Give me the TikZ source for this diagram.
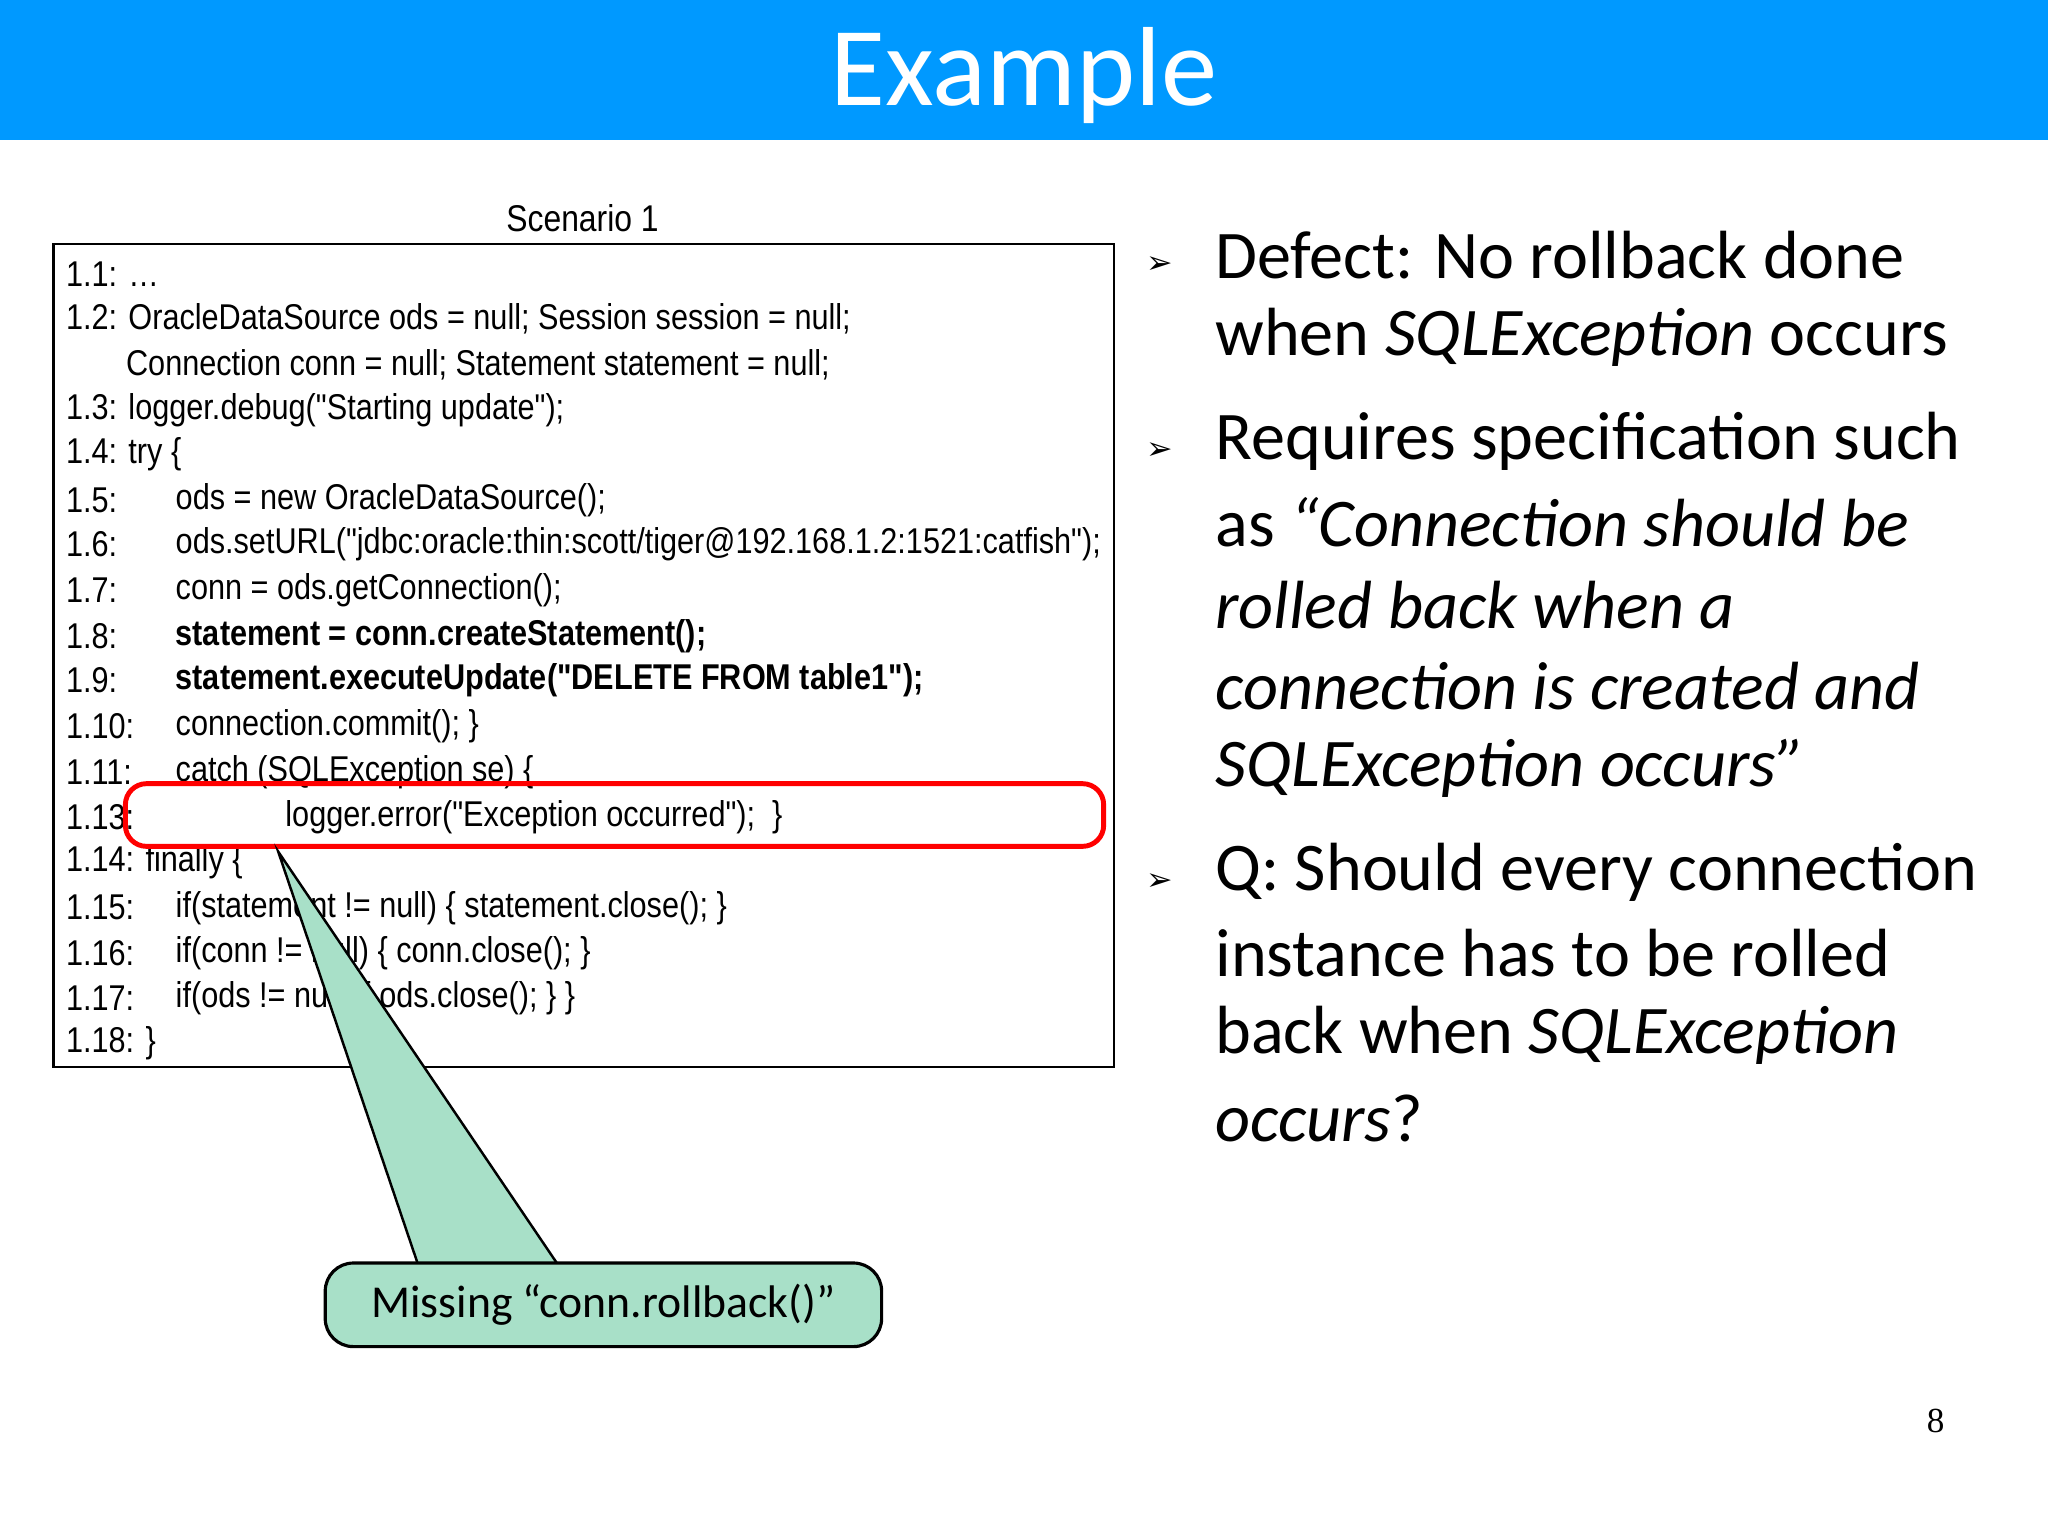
\documentclass[tikz,border=0pt]{standalone}
\usepackage{fontspec}
\setmainfont{Carlito}
\newfontfamily\codefont[FakeStretch=0.855]{Liberation Sans}
\newfontfamily\dejavu{DejaVu Sans}
\newfontfamily\serifnum{Liberation Serif}
\begin{document}
\begin{tikzpicture}[x=0.013061cm,y=-0.013061cm,
  cl/.style={anchor=west,inner sep=0pt,font=\codefont\fontsize{10.2}{12}\selectfont},
  rt/.style={anchor=west,inner sep=0pt,font=\fontsize{19.4}{24}\selectfont},
  bul/.style={inner sep=0pt,font=\dejavu\fontsize{9}{10}\selectfont}]
\useasboundingbox (0,0) rectangle (1568,1176);
\fill[white] (0,0) rectangle (1568,1176);
\fill[color={rgb,255:red,0;green,153;blue,255}] (0,0) rectangle (1568,107);
\node[text=white,font=\fontsize{32}{36}\selectfont] (title) at (784,58) {Example};
\node[font=\codefont\fontsize{10.6}{12}\selectfont] (scen) at (446,167) {Scenario 1};
\node[draw,line width=0.7pt,minimum width=812*0.013061cm,minimum height=630*0.013061cm,inner sep=0pt] (box) at (447,502) {};
\begin{scope}[yshift=-2*0.013061cm]
\foreach \y/\l in {208/{1.1: \dots},242/{1.2: OracleDataSource ods = null; Session session = null;},312/{1.3: logger.debug("Starting update");},346/{1.4: try \{},381/{1.5:},415/{1.6:},450/{1.7:},485/{1.8:},519/{1.9:},554/{1.10:},589/{1.11:},624/{1.13:},658/{1.14: finally \{},693/{1.15:},728/{1.16:},762/{1.17:},797/{1.18: \}}}
  \node[cl] at (50,\y) {\l};
\node[cl] (c2) at (96,277) {Connection conn = null; Statement statement = null;};
\node[cl] (c5) at (134,381) {ods = new OracleDataSource();};
\node[cl] (c6) at (134,415) {ods.setURL("jdbc:oracle:thin:scott/tiger@192.168.1.2:1521:catfish");};
\node[cl] (c7) at (134,450) {conn = ods.getConnection();};
\node[cl] (c8) at (134,485) {\bfseries statement = conn.createStatement();};
\node[cl] (c9) at (134,519) {\bfseries statement.executeUpdate("DELETE FROM table1");};
\node[cl] (c10) at (134,554) {connection.commit(); \}};
\node[cl] (c11) at (134,589) {catch (SQLException se) \{};
\node[cl] (c13) at (218,624) {logger.error("Exception occurred");~ \}};
\node[cl] (c15) at (134,693) {if(statement != null) \{ statement.close(); \}};
\node[cl] (c16) at (134,728) {if(conn != null) \{ conn.close(); \}};
\node[cl] (c17) at (134,762) {if(ods != null) \{ ods.close(); \} \}};
\end{scope}
\draw[red,line width=1.4pt,rounded corners=6pt] (96,600) rectangle (845,648);
\coordinate (tip) at (213,652);
\fill[color={rgb,255:red,168;green,224;blue,200}] (tip) -- (320,969) -- (427,969) -- cycle;
\draw[line width=0.7pt] (320,968) -- (tip) -- (427,968);
\node[draw,line width=0.9pt,rounded corners=8pt,fill={rgb,255:red,168;green,224;blue,200},minimum width=426*0.013061cm,minimum height=64*0.013061cm,font=\fontsize{13}{15}\selectfont] (call) at (462,999) {Missing “conn.rollback()”};
\foreach \y in {203,345,675} \node[bul] at (888,\y) {➢};
\node[rt] at (930,195) {Defect: No rollback done};
\node[rt] at (930,258) {when \textit{SQLException} occurs};
\node[rt] at (930,338) {Requires specification such};
\node[rt] at (930,400) {as \textit{“Connection should be}};
\node[rt] at (930,463) {\textit{rolled back when a}};
\node[rt] at (930,525) {\textit{connection is created and}};
\node[rt] at (930,588) {\textit{SQLException occurs”}};
\node[rt] at (930,668) {Q: Should every connection};
\node[rt] at (930,730) {instance has to be rolled};
\node[rt] at (930,793) {back when \textit{SQLException}};
\node[rt] at (930,856) {\textit{occurs}?};
\node[font=\serifnum\fontsize{10}{12}\selectfont] (pg) at (1482,1088) {8};
\end{tikzpicture}
\end{document}
